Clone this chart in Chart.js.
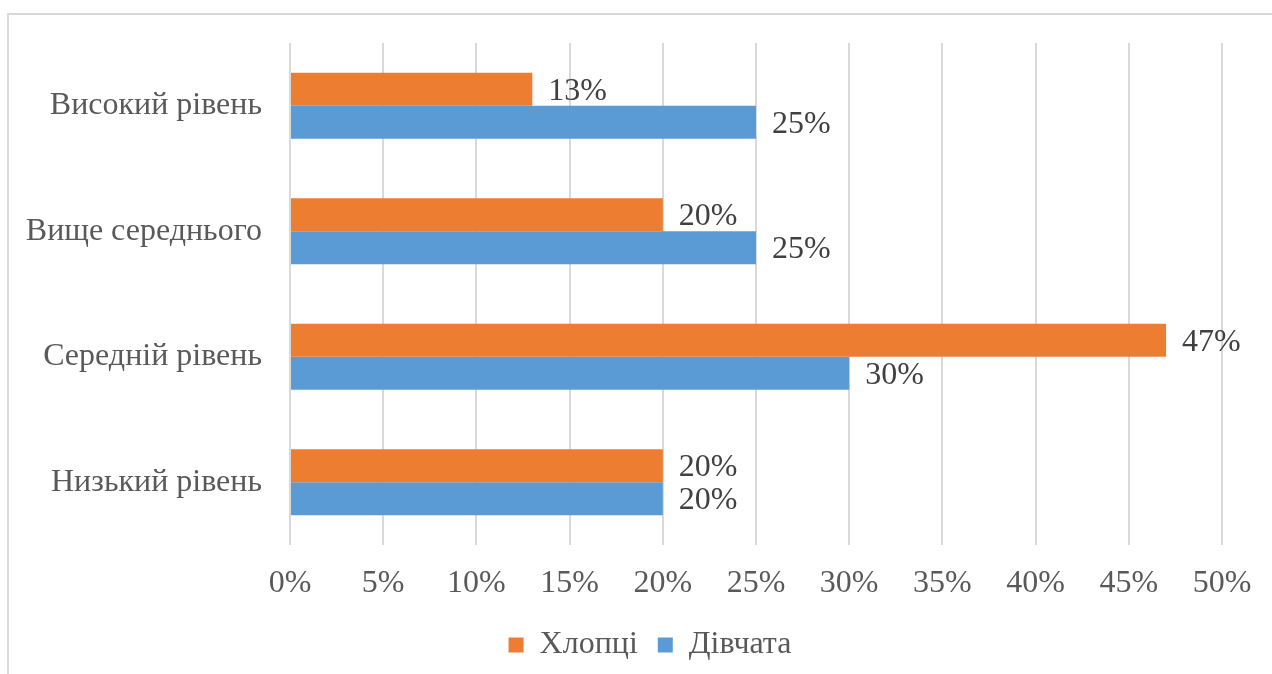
<!DOCTYPE html>
<html>
<head>
<meta charset="utf-8">
<script src="https://cdn.jsdelivr.net/npm/chart.js@4"></script>
<style>
    body { margin: 0; background: #fff; overflow: hidden; }
    #frame { position: absolute; left: 7px; top: 13px; width: 1300px; height: 700px;
             border-left: 2px solid #d9d9d9; border-top: 2px solid #d9d9d9; }
    #wrap { position: absolute; left: 0; top: 0; width: 1272px; height: 674px; }
</style>
</head>
<body>
<div id="frame"></div>
<div id="wrap"><canvas id="levels-chart" width="1272" height="674"></canvas></div>
<script>
    const categories = ['Високий рівень', 'Вище середнього', 'Середній рівень', 'Низький рівень'];
    const boysValues = [13, 20, 47, 20];
    const girlsValues = [25, 25, 30, 20];
    const seriesNames = ['Хлопці', 'Дівчата'];

    const textColor = '#595959';
    const fontFamily = '"Liberation Serif", "Times New Roman", serif';

    // value labels at the end of every bar
    const barLabels = {
        id: 'barLabels',
        afterDatasetsDraw(chart) {
            let ctx = chart.ctx;
            ctx.save();
            ctx.font = '32px ' + fontFamily;
            ctx.fillStyle = '#404040';
            ctx.textAlign = 'left';
            ctx.textBaseline = 'middle';
            chart.data.datasets.forEach((ds, i) => {
                let meta = chart.getDatasetMeta(i);
                meta.data.forEach((bar, j) => {
                    ctx.fillText(ds.data[j] + '%', bar.x + 16, bar.y + 2);
                });
            });
            ctx.restore();
        }
    };

    // legend is centred a bit further right in the original
    const legendShift = {
        id: 'legendShift',
        afterLayout(chart) {
            chart.legend.left += 58;
        }
    };

    let ctx = document.getElementById('levels-chart');

    let levelsChart = new Chart(ctx, {
        type: 'bar',
        data: {
            labels: categories,
            datasets: [{
                label: seriesNames[0],
                data: boysValues,
                backgroundColor: '#ED7D31',
                categoryPercentage: 0.524,
                barPercentage: 1
            }, {
                label: seriesNames[1],
                data: girlsValues,
                backgroundColor: '#5B9BD5',
                categoryPercentage: 0.524,
                barPercentage: 1
            }]
        },
        options: {
            indexAxis: 'y',
            responsive: false,
            animation: false,
            layout: {
                padding: { top: 43, left: 20, right: 50, bottom: 3 }
            },
            scales: {
                x: {
                    min: 0,
                    max: 50,
                    ticks: {
                        stepSize: 5,
                        color: textColor,
                        padding: 19,
                        font: { family: fontFamily, size: 32 },
                        callback: v => v + '%'
                    },
                    grid: { color: '#d9d9d9', lineWidth: 2, drawTicks: false },
                    border: { display: false },
                    afterFit(scale) {
                        scale.height = 64;
                    }
                },
                y: {
                    ticks: {
                        color: textColor,
                        padding: 20,
                        font: { family: fontFamily, size: 32 }
                    },
                    grid: { display: false },
                    border: { display: false },
                    afterFit(scale) {
                        scale.width = 270;
                    }
                }
            },
            plugins: {
                legend: {
                    position: 'bottom',
                    labels: {
                        color: textColor,
                        boxWidth: 15,
                        boxHeight: 15,
                        padding: 20,
                        font: { family: fontFamily, size: 32 }
                    }
                },
                tooltip: { enabled: false }
            }
        },
        plugins: [barLabels, legendShift]
    });
</script>
</body>
</html>
